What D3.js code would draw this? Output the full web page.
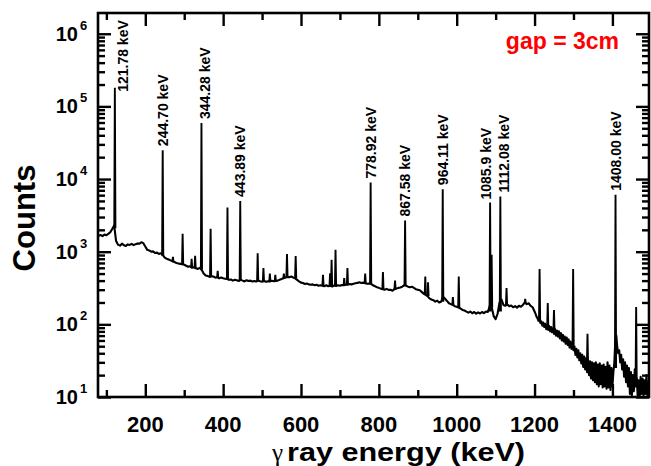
<!DOCTYPE html>
<meta charset="utf-8">
<style>
body { margin: 0; background: #fff; }
text { font-family: "Liberation Sans", Arial, sans-serif; font-weight: bold; fill: #000; }
.tick line { stroke: #000; stroke-width: 2.4; }
.domain { display: none; }
</style>
<svg width="651" height="466"></svg>
<script src="https://d3js.org/d3.v7.min.js"></script>
<script>

// spectrum continuum, one value every 5 keV from 80 to 1195 keV
var chanStart = 80, chanStep = 5;
var continuum = [
  1650,1700,1640,1720,1690,1760,1850,2050,2300,1400,
  1250,1210,1290,1230,1200,1260,1240,1280,1230,1270,
  1300,1290,1350,1310,1180,1060,1040,1000,1010,960,
  970,930,950,900,830,800,780,760,740,720,
  700,690,680,670,660,640,620,630,600,610,
  590,580,600,560,500,470,465,450,460,455,
  440,445,430,440,430,425,420,410,415,400,
  410,405,395,410,400,390,405,395,400,390,
  395,388,400,392,385,395,385,392,388,398,
  392,395,400,410,420,430,440,450,445,455,
  440,430,410,390,375,370,360,365,355,350,
  355,345,350,340,345,340,335,345,335,340,
  332,342,338,345,340,348,345,352,350,358,
  355,362,368,372,380,370,375,368,362,365,
  360,345,335,325,318,310,305,300,308,298,
  300,290,305,310,318,322,330,345,340,330,
  325,330,318,305,300,295,280,265,255,245,
  228,220,215,205,212,200,205,240,225,210,
  195,190,185,178,175,170,165,158,155,150,
  145,150,142,148,140,146,141,148,143,150,
  148,180,170,130,118,140,200,220,185,180,
  188,178,182,172,178,170,180,175,185,200,
  190,195,180,172
];

// noisy high-energy end, one value every 2.5 keV from 1200 to 1495 keV
var fineStart = 1200, fineStep = 2.5;
var fineCounts = [
  150,140,128,122,112,118,104,110,
  96,106,92,102,86,98,84,95,
  80,92,78,88,74,86,70,82,
  68,80,64,76,60,72,58,68,
  54,66,52,62,48,58,46,56,
  44,50,38,46,35,44,32,40,
  29,38,26,36,24,34,22,32,
  20,31,18,30,17,29,16,30,
  15,28,14,29,15,27,13.5,28,
  14,26,13,30,13.5,27,12.5,25,
  14,22,30,60,70,48,40,44,
  30,38,24,33,19,30,16,27,
  14,25,11,22,10.5,20,12,24,
  14,18,10.2,17,10,19,11,18,
  10.5,17,11,20,10.5,16,12
];

// photopeaks: energy (keV), counts at the top, counts at the foot
var peakEnergy = [121.78, 244.70, 271, 295.9, 319, 328, 344.28, 367.8, 386, 411.1,
  443.9, 488.7, 503.5, 520, 534, 556, 564.0, 586.3, 656.5, 674.7,
  678.6, 688.7, 711, 719.3, 764.9, 778.9, 810.5, 841.6, 867.4, 919.3,
  926.3, 964.1, 990.2, 1005.3, 1085.8, 1089.7, 1112.1, 1128, 1176, 1212.9,
  1233.9, 1249.9, 1299.1, 1336, 1408.0, 1461];
var peakTop = [1.8e5, 2.5e4, 850, 1760, 800, 880, 5.9e4, 2070, 545, 4060,
  5000, 955, 596, 500, 480, 500, 927, 870, 480, 505,
  775, 1060, 435, 596, 500, 8960, 525, 400, 2690, 455,
  380, 7260, 238, 455, 4750, 906, 5740, 316, 225, 576,
  196, 158, 576, 74, 6070, 173];
var peakBase = [2100, 880, 720, 670, 605, 590, 570, 455, 440, 420,
  400, 395, 390, 388, 395, 425, 440, 430, 340, 338,
  335, 340, 345, 350, 368, 360, 305, 305, 340, 255,
  245, 205, 185, 170, 150, 170, 150, 185, 195, 110,
  90, 80, 52, 28, 25, 15];

var labelEnergy = [121.78, 244.70, 344.28, 443.89, 778.92, 867.58, 964.11, 1085.9, 1112.08, 1408.00];
var labelText = ["121.78 keV", "244.70 keV", "344.28 keV", "443.89 keV", "778.92 keV",
  "867.58 keV", "964.11 keV", "1085.9 keV", "1112.08 keV", "1408.00 keV"];

var xTicks = [200, 400, 600, 800, 1000, 1200, 1400];
var xMinorTicks = [100, 300, 500, 700, 900, 1100, 1300];
var yTicks = [10, 100, 1000, 10000, 100000, 1000000];
var yTickExp = ["1", "2", "3", "4", "5", "6"];

var svg = d3.select("svg"),
    margin = {top: 13, right: 2, bottom: 69, left: 98},
    width = +svg.attr("width") - margin.left - margin.right,
    height = +svg.attr("height") - margin.top - margin.bottom,
    g = svg.append("g").attr("transform", "translate(" + margin.left + "," + margin.top + ")");

var x = d3.scaleLinear().domain([78.5, 1494]).range([0, width]);
var y = d3.scaleLog().domain([10, 1.93e6]).range([height, 0]);

svg.append("defs").append("clipPath").attr("id", "clip")
  .append("rect").attr("width", width).attr("height", height);

var plot = g.append("g").attr("clip-path", "url(#clip)");

var line = d3.line()
    .x(function(d) { return x(d[0]); })
    .y(function(d) { return y(d[1]); });

var spec = continuum.map(function(c, i) { return [chanStart + i * chanStep, c]; })
  .concat(fineCounts.map(function(c, i) { return [fineStart + i * fineStep, c]; }));

plot.append("path")
    .datum(spec)
    .attr("fill", "none")
    .attr("stroke", "#000")
    .attr("stroke-width", 2.1)
    .attr("stroke-linejoin", "round")
    .attr("d", line);

plot.selectAll(".peak")
  .data(peakEnergy)
  .enter().append("path")
    .attr("class", "peak")
    .attr("fill", "none")
    .attr("stroke", "#000")
    .attr("stroke-width", 1.9)
    .attr("d", function(e, i) {
      return line([[e - 1.5, peakBase[i]], [e, peakTop[i]], [e + 1.5, peakBase[i]]]);
    });

// ticks on all four sides, pointing inward
var yMinor = y.ticks().filter(function(v) { return yTicks.indexOf(v) < 0; });

function ticks(axis, vals, size, transform) {
  g.append("g")
    .attr("transform", transform || null)
    .call(axis.tickValues(vals).tickSize(size).tickFormat(""));
}
ticks(d3.axisBottom(x), xTicks, -13, "translate(0," + height + ")");
ticks(d3.axisBottom(x), xMinorTicks, -7, "translate(0," + height + ")");
ticks(d3.axisTop(x), xTicks, -13);
ticks(d3.axisTop(x), xMinorTicks, -7);
ticks(d3.axisLeft(y), yTicks, -13);
ticks(d3.axisLeft(y), yMinor, -7);
ticks(d3.axisRight(y), yTicks, -13, "translate(" + width + ",0)");
ticks(d3.axisRight(y), yMinor, -7, "translate(" + width + ",0)");

g.append("rect")
    .attr("width", width)
    .attr("height", height)
    .attr("fill", "none")
    .attr("stroke", "#000")
    .attr("stroke-width", 2.6);

// tick labels
g.selectAll(".xlab")
  .data(xTicks)
  .enter().append("text")
    .attr("x", function(d) { return x(d); })
    .attr("y", height + 35)
    .attr("text-anchor", "middle")
    .attr("font-size", 22)
    .text(function(d) { return d; });

var ylab = g.selectAll(".ylab")
  .data(yTicks)
  .enter().append("g")
    .attr("transform", function(d) { return "translate(0," + y(d) + ")"; });
ylab.append("text")
    .attr("x", -20)
    .attr("y", 7)
    .attr("text-anchor", "end")
    .attr("font-size", 20)
    .text("10");
ylab.append("text")
    .attr("x", -18)
    .attr("y", -4)
    .attr("font-size", 13)
    .text(function(d, i) { return yTickExp[i]; });

// peak labels (a few nudged sideways so they clear the axis or each other)
var nudge = {"121.78 keV": [8, 4], "344.28 keV": [3, -4], "1085.9 keV": [-4, -3], "1112.08 keV": [4, -4]};
labelEnergy.forEach(function(e, k) {
  var i = d3.minIndex(peakEnergy, function(p) { return Math.abs(p - e); });
  var n = nudge[labelText[k]] || [0, -4];
  g.append("text")
      .attr("transform", "translate(" + (x(e) + n[0]) + "," + (y(peakTop[i]) + n[1]) + ") rotate(-90)")
      .attr("dy", "0.36em")
      .attr("font-size", 14)
      .text(labelText[k]);
});

g.append("text")
    .attr("x", 521)
    .attr("y", 36)
    .attr("text-anchor", "end")
    .attr("font-size", 23)
    .style("fill", "#ff0000")
    .text("gap = 3cm");

// axis titles
svg.append("text")
    .attr("transform", "translate(35,218) rotate(-90)")
    .attr("text-anchor", "middle")
    .attr("font-size", 31)
    .text("Counts");

svg.append("text")
    .attr("x", 272)
    .attr("y", 461)
    .attr("font-size", 25)
    .style("font-family", "'Liberation Serif', serif")
    .style("font-weight", "normal")
    .text("\u03b3");
svg.append("text")
    .attr("x", 287)
    .attr("y", 461)
    .attr("font-size", 25)
    .attr("textLength", 238)
    .attr("lengthAdjust", "spacingAndGlyphs")
    .text("ray energy (keV)");

</script>
